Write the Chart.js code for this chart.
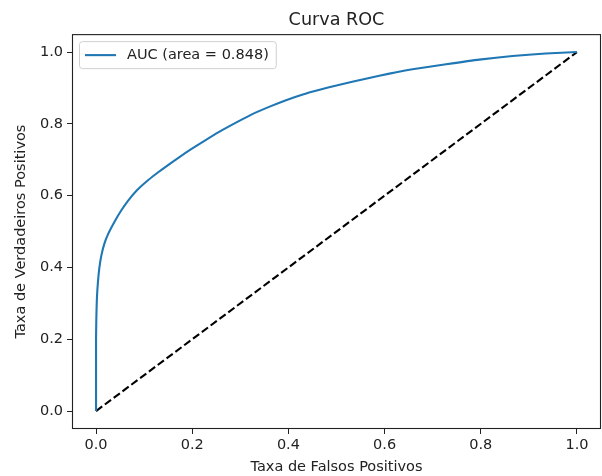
<!DOCTYPE html>
<html>
<head>
<meta charset="utf-8">
<script src="https://cdn.jsdelivr.net/npm/chart.js@4.4.1/dist/chart.umd.min.js"></script>
<style>
  body { margin: 0; background: #fff; }
  canvas { display: block; }
</style>
</head>
<body>
<canvas id="roc" width="602" height="476"></canvas>
<script>
// valori
var fpr = [0, 0, 0.0005, 0.001, 0.002, 0.004, 0.007, 0.011, 0.017, 0.025, 0.039, 0.052, 0.066, 0.085, 0.108, 0.130, 0.160, 0.190, 0.222, 0.255, 0.292, 0.325, 0.361, 0.395, 0.430, 0.465, 0.500, 0.535, 0.568, 0.610, 0.658, 0.728, 0.797, 0.866, 0.935, 1.0];
var tpr = [0, 0.20, 0.25, 0.28, 0.32, 0.36, 0.40, 0.433, 0.465, 0.493, 0.529, 0.558, 0.585, 0.615, 0.643, 0.666, 0.695, 0.723, 0.750, 0.777, 0.804, 0.827, 0.848, 0.866, 0.882, 0.895, 0.907, 0.918, 0.928, 0.940, 0.952, 0.966, 0.979, 0.989, 0.996, 1.0];
var diagX = [0, 1];
var diagY = [0, 1];
var tickValues = [0, 0.2, 0.4, 0.6, 0.8, 1.0];
var aucLabel = 'AUC (area = 0.848)';

var FONT = 'DejaVu Sans';
var blu = '#1f77b4';

function punti(xs, ys) {
  return xs.map(function(x, i){ return {x: x, y: ys[i]}; });
}

function fissaTicks(scale) {
  scale.ticks = tickValues.map(function(v){ return {value: v}; });
}

// cornice su 4 lati + legenda dentro il grafico
var cornice = {
  id: 'cornice',
  afterDatasetsDraw: function(chart) {
    var ctx = chart.ctx, a = chart.chartArea;
    ctx.save();
    ctx.strokeStyle = '#222';
    ctx.lineWidth = 1.1;
    ctx.strokeRect(a.left + 0.5, a.top + 0.5, a.right - a.left - 1, a.bottom - a.top - 1);

    // legenda
    ctx.font = '14.5px "' + FONT + '"';
    var tw = ctx.measureText(aucLabel).width;
    var bx = a.left + 7, by = a.top + 7, bw = 48 + tw + 7, bh = 27;
    ctx.beginPath();
    ctx.roundRect(bx + 0.5, by + 0.5, bw, bh, 3);
    ctx.fillStyle = 'rgba(255,255,255,0.8)';
    ctx.fill();
    ctx.strokeStyle = '#d0d0d0';
    ctx.lineWidth = 1;
    ctx.stroke();
    ctx.beginPath();
    ctx.moveTo(bx + 6, by + 14);
    ctx.lineTo(bx + 37, by + 14);
    ctx.strokeStyle = blu;
    ctx.lineWidth = 2.1;
    ctx.stroke();
    ctx.fillStyle = '#222';
    ctx.textBaseline = 'middle';
    ctx.textAlign = 'left';
    ctx.fillText(aucLabel, bx + 48, by + 14);
    ctx.restore();
  }
};

var ctx = document.getElementById('roc').getContext('2d');
Chart.defaults.font.family = FONT;
Chart.defaults.color = '#222';

var options = {
  type: 'scatter',
  data: {
    datasets: [
      {
        label: aucLabel,
        data: punti(fpr, tpr),
        showLine: true,
        borderColor: blu,
        backgroundColor: blu,
        borderWidth: 2.1,
        pointRadius: 0,
        tension: 0.2,
        fill: false
      },
      {
        label: 'diagonale',
        data: punti(diagX, diagY),
        showLine: true,
        borderColor: '#000',
        borderWidth: 2.1,
        borderDash: [7.7, 3.3],
        pointRadius: 0,
        fill: false
      }
    ]
  },
  options: {
    responsive: false,
    animation: false,
    devicePixelRatio: 1,
    layout: { padding: { left: 0, right: 1, top: 0, bottom: 0 } },
    plugins: {
      legend: { display: false },
      tooltip: { enabled: false },
      title: {
        display: true,
        text: 'Curva ROC',
        fullSize: false,
        color: '#222',
        font: { size: 17.6, weight: 'normal', lineHeight: 1.2 },
        padding: { top: 10, bottom: 3 }
      }
    },
    scales: {
      x: {
        type: 'linear',
        min: -0.05,
        max: 1.05,
        afterBuildTicks: fissaTicks,
        afterFit: function(scale){ scale.height = 47; },
        grid: { drawOnChartArea: false, drawTicks: true, tickLength: 5, tickColor: '#222', tickWidth: 1 },
        border: { display: false },
        ticks: {
          font: { size: 14.5 },
          padding: 3,
          maxRotation: 0,
          callback: function(v){ return v.toFixed(1); }
        },
        title: {
          display: true,
          text: 'Taxa de Falsos Positivos',
          font: { size: 14.5 },
          padding: { top: 1.5, bottom: 0 }
        }
      },
      y: {
        type: 'linear',
        min: -0.05,
        max: 1.05,
        afterBuildTicks: fissaTicks,
        afterFit: function(scale){ scale.width = 72; },
        grid: { drawOnChartArea: false, drawTicks: true, tickLength: 5, tickColor: '#222', tickWidth: 1 },
        border: { display: false },
        ticks: {
          font: { size: 14.5 },
          padding: 4,
          callback: function(v){ return v.toFixed(1); }
        },
        title: {
          display: true,
          text: 'Taxa de Verdadeiros Positivos',
          font: { size: 14.5 },
          padding: { top: 13, bottom: 0 }
        }
      }
    }
  },
  plugins: [cornice]
};

window.rocChart = new Chart(ctx, options);
</script>
</body>
</html>
